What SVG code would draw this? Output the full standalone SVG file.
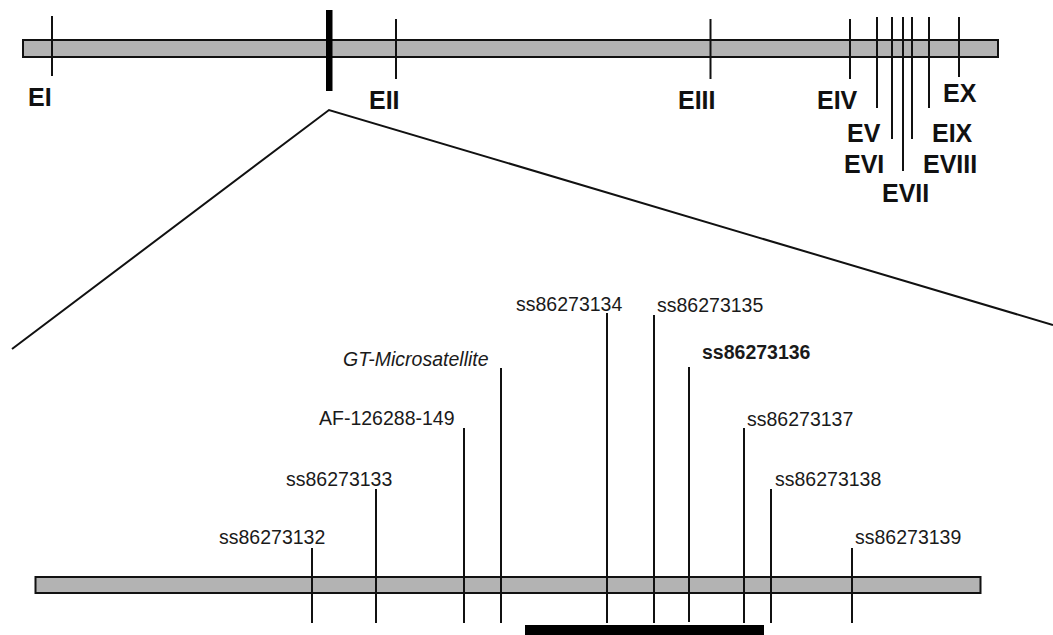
<svg xmlns="http://www.w3.org/2000/svg" width="1053" height="635" viewBox="0 0 1053 635">
<style>
.bar{fill:#b3b3b3;stroke:#111;stroke-width:2}
.tick{stroke:#111;stroke-width:2;fill:none}
.ex{font-family:"Liberation Sans",Arial,sans-serif;font-weight:bold;font-size:25px;fill:#111}
.snp{font-family:"Liberation Sans",Arial,sans-serif;font-size:19.5px;fill:#1a1a1a}
</style>
<rect width="1053" height="635" fill="#fff"/>
<g id="gene">
<rect class="bar" x="23" y="40" width="975" height="17"/>
</g>
<g id="exons">
<g id="EI"><line class="tick" x1="52" y1="16" x2="52" y2="76"/><text class="ex" x="28" y="106">EI</text></g>
<g id="EII"><line class="tick" x1="396" y1="19" x2="396" y2="79"/><text class="ex" x="369" y="109">EII</text></g>
<g id="EIII"><line class="tick" x1="710.5" y1="19" x2="710.5" y2="79"/><text class="ex" x="678" y="109">EIII</text></g>
<g id="EIV"><line class="tick" x1="850" y1="19" x2="850" y2="79"/><text class="ex" x="817" y="109">EIV</text></g>
<g id="EV"><line class="tick" x1="877" y1="17" x2="877" y2="108"/><text class="ex" x="847" y="142">EV</text></g>
<g id="EVI"><line class="tick" x1="892" y1="17" x2="892" y2="139"/><text class="ex" x="844" y="173">EVI</text></g>
<g id="EVII"><line class="tick" x1="903" y1="17" x2="903" y2="171"/><text class="ex" x="882" y="202">EVII</text></g>
<g id="EVIII"><line class="tick" x1="912" y1="17" x2="912" y2="139"/><text class="ex" x="923" y="173">EVIII</text></g>
<g id="EIX"><line class="tick" x1="929" y1="17" x2="929" y2="108"/><text class="ex" x="932" y="142">EIX</text></g>
<g id="EX"><line class="tick" x1="959" y1="17" x2="959" y2="77"/><text class="ex" x="943" y="102">EX</text></g>
</g>
<g id="region">
<rect x="326" y="10" width="6.5" height="81" fill="#000"/>
</g>
<g id="connectors">
<polyline points="12,349 329,110 1053,325" fill="none" stroke="#111" stroke-width="2"/>
</g>
<g id="detail">
<rect class="bar" x="35.5" y="577" width="945" height="16"/>
</g>
<g id="snps">
<g id="ss86273132"><line class="tick" x1="312" y1="548" x2="312" y2="623"/><text class="snp" x="219" y="544">ss86273132</text></g>
<g id="ss86273133"><line class="tick" x1="376" y1="489" x2="376" y2="623"/><text class="snp" x="286" y="486">ss86273133</text></g>
<g id="AF-126288-149"><line class="tick" x1="464" y1="428" x2="464" y2="623"/><text class="snp" x="319" y="425">AF-126288-149</text></g>
<g id="GT-Microsatellite"><line class="tick" x1="501" y1="368" x2="501" y2="623"/><text class="snp" x="343" y="366" font-style="italic">GT-Microsatellite</text></g>
<g id="ss86273134"><line class="tick" x1="607" y1="313" x2="607" y2="623"/><text class="snp" x="516" y="311">ss86273134</text></g>
<g id="ss86273135"><line class="tick" x1="654" y1="315" x2="654" y2="623"/><text class="snp" x="657" y="312">ss86273135</text></g>
<g id="ss86273136"><line class="tick" x1="689" y1="367" x2="689" y2="622"/><text class="snp" x="702" y="359" font-weight="bold">ss86273136</text></g>
<g id="ss86273137"><line class="tick" x1="744" y1="428" x2="744" y2="623"/><text class="snp" x="747" y="426">ss86273137</text></g>
<g id="ss86273138"><line class="tick" x1="771" y1="489" x2="771" y2="623"/><text class="snp" x="775" y="486">ss86273138</text></g>
<g id="ss86273139"><line class="tick" x1="852" y1="548" x2="852" y2="623"/><text class="snp" x="855" y="544">ss86273139</text></g>
</g>
<g id="block">
<rect x="525" y="625" width="239" height="12" fill="#000"/>
</g>
</svg>
